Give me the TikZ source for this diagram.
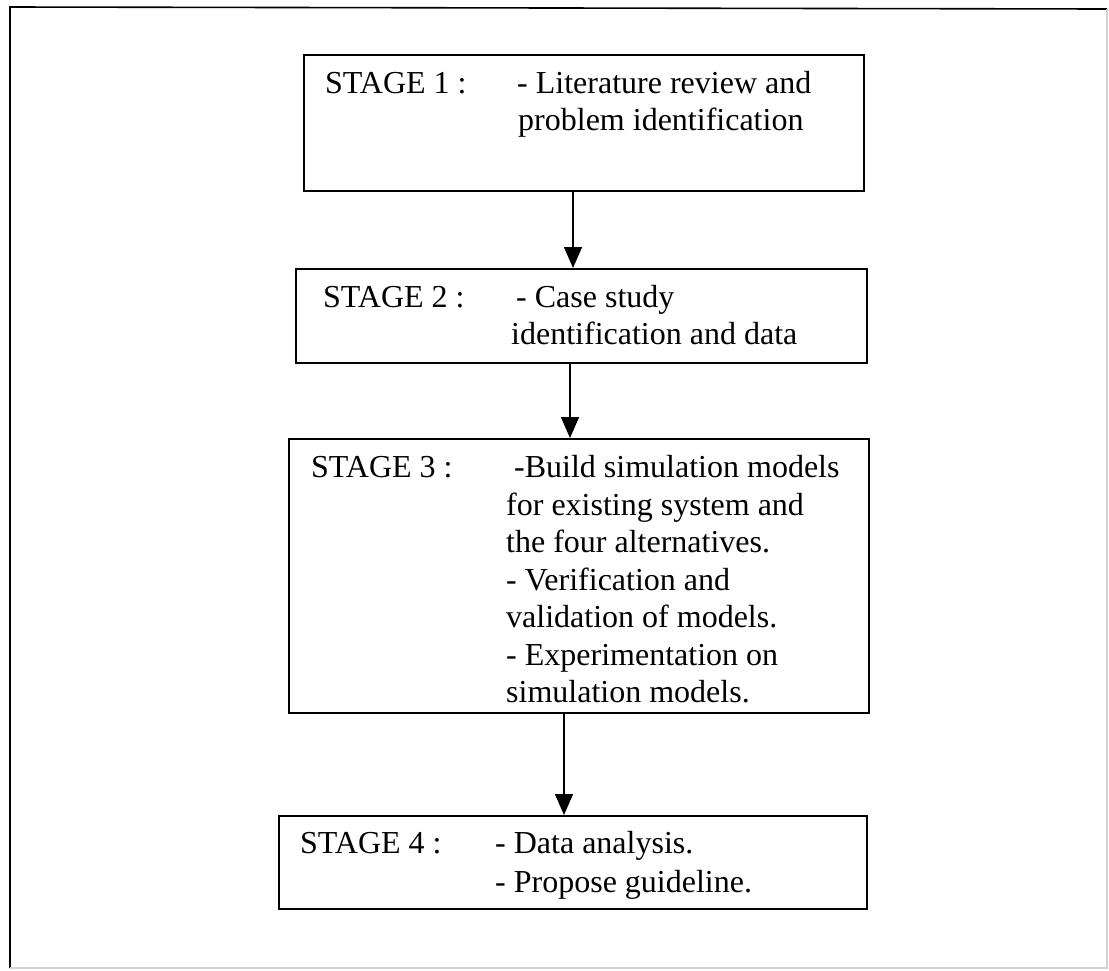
\documentclass[tikz,border=0pt]{standalone}
\usepackage{fontspec}
\setmainfont{Liberation Serif}
\usetikzlibrary{arrows.meta}
\begin{document}
\begin{tikzpicture}[x=1pt,y=-1pt,
  stagebox/.style={draw=black, line width=1.8pt, inner sep=0pt, anchor=north west},
  txt/.style={anchor=base west, inner sep=0pt, text=black,
              font=\fontsize{32}{37.5}\selectfont},
  flow/.style={draw=black, line width=1.5pt,
               -{Triangle[length=21pt,width=18pt]}}]
  \useasboundingbox (0,0) rectangle (1109,970);
  \fill[white] (0,0) rectangle (1109,970);

  % outer frame (right and bottom edges fade out)
  \draw[line width=1.6pt] (10,968) -- (10,7) -- (1107,9);
  \draw[gray!35, line width=1.2pt] (1107,9) -- (1107,968) -- (10,968);

  % stage boxes
  \node[stagebox, minimum width=560pt, minimum height=136pt] (s1) at (303,54) {};
  \node[stagebox, minimum width=571pt, minimum height=94pt]  (s2) at (295,268) {};
  \node[stagebox, minimum width=580pt, minimum height=274pt] (s3) at (288,438) {};
  \node[stagebox, minimum width=588pt, minimum height=93pt]  (s4) at (278,815) {};

  % stage 1
  \node[txt] (t1a) at (325,93)  {STAGE 1 :};
  \node[txt] (t1b) at (517,93)  {- Literature review and};
  \node[txt] (t1c) at (518,130) {problem identification};

  % stage 2
  \node[txt] (t2a) at (323,307) {STAGE 2 :};
  \node[txt] (t2b) at (516,307) {- Case study};
  \node[txt] (t2c) at (511,344) {identification and data};

  % stage 3
  \node[txt] (t3a) at (311,477) {STAGE 3 :};
  \node[txt] (t3b) at (514,477) {-Build simulation models};
  \node[txt] (t3c) at (506,515) {for existing system and};
  \node[txt] (t3d) at (506,552) {the four alternatives.};
  \node[txt] (t3e) at (506,590) {- Verification and};
  \node[txt] (t3f) at (506,627) {validation of models.};
  \node[txt] (t3g) at (506,665) {- Experimentation on};
  \node[txt] (t3h) at (506,702) {simulation models.};

  % stage 4
  \node[txt] (t4a) at (300,853) {STAGE 4 :};
  \node[txt] (t4b) at (495,853) {- Data analysis.};
  \node[txt] (t4c) at (495,892) {- Propose guideline.};

  % connectors
  \coordinate (c1) at (573,0);
  \coordinate (c2) at (570,0);
  \coordinate (c3) at (564,0);
  \draw[flow] (s1.south -| c1) -- (s2.north -| c1);
  \draw[flow] (s2.south -| c2) -- (s3.north -| c2);
  \draw[flow] (s3.south -| c3) -- (s4.north -| c3);
\end{tikzpicture}
\end{document}
